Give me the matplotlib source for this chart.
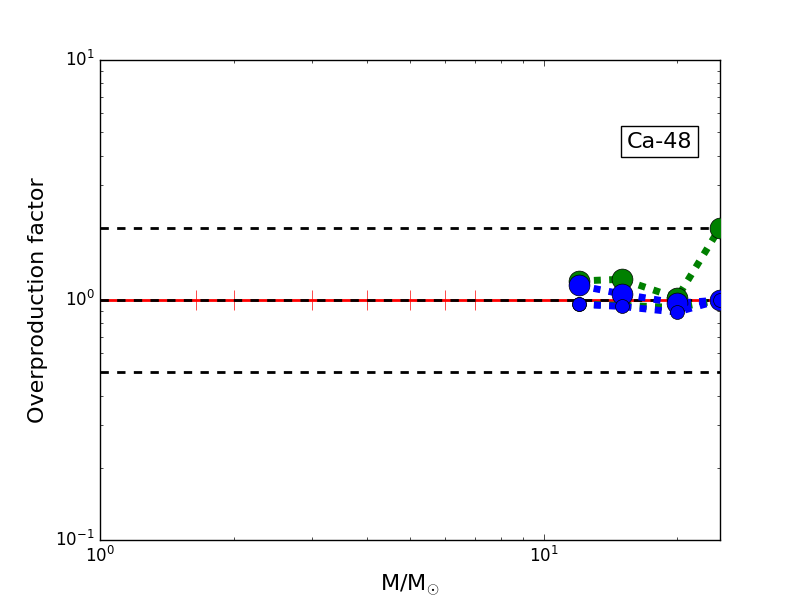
import matplotlib
matplotlib.use("Agg")
import matplotlib.pyplot as plt

plt.style.use('classic')

masses = [12, 15, 20, 25]
green_big = [1.2, 1.22, 1.02, 2.0]
green_small = [0.96, 0.95, 0.93, 1.0]
blue_big = [1.15, 1.06, 0.97, 1.0]
blue_small = [0.96, 0.94, 0.89, 1.0]
red_x = [1.65, 2, 3, 4, 5, 6, 7]
ref_levels = [0.5, 1.0, 2.0]
label = "Ca-48"

fig = plt.figure(figsize=(8, 6), dpi=100, facecolor='white')
ax = fig.add_axes([0.125, 0.1, 0.775, 0.8])
ax.set_xscale('log')
ax.set_yscale('log')

ax.plot([1, 25], [1, 1], color='red', lw=2, zorder=2)
ax.plot(red_x, [1] * len(red_x), ls='none', marker='|', color='red', ms=15, zorder=2)
for lv in ref_levels:
    ax.axhline(lv, color='black', ls='--', lw=2, dashes=(6, 6), zorder=3)

dot = dict(ls='-', dashes=(5, 6), lw=5, dash_capstyle='butt')
ax.plot(masses, green_big, color='green', marker='o', ms=15, mfc='green', mec='black', zorder=4, **dot)
ax.plot(masses, green_small, color='green', marker='o', ms=10, mfc='green', mec='black', zorder=4, **dot)
ax.plot(masses, blue_big, color='blue', marker='o', ms=15, mfc='blue', mec='black', zorder=5, **dot)
ax.plot(masses, blue_small, color='blue', marker='o', ms=10, mfc='blue', mec='black', zorder=5, **dot)

ax.set_xlim(1, 25)
ax.set_ylim(0.1, 10)
ax.set_xlabel(r'M/M$_{\odot}$', fontsize=16)
ax.set_ylabel('Overproduction factor', fontsize=16)
ax.tick_params(labelsize=12)
ax.text(0.955, 0.83, label, transform=ax.transAxes, ha='right', va='center', fontsize=16,
        bbox=dict(facecolor='white', edgecolor='black'))

fig.savefig('out.png', dpi=100, facecolor='white')
